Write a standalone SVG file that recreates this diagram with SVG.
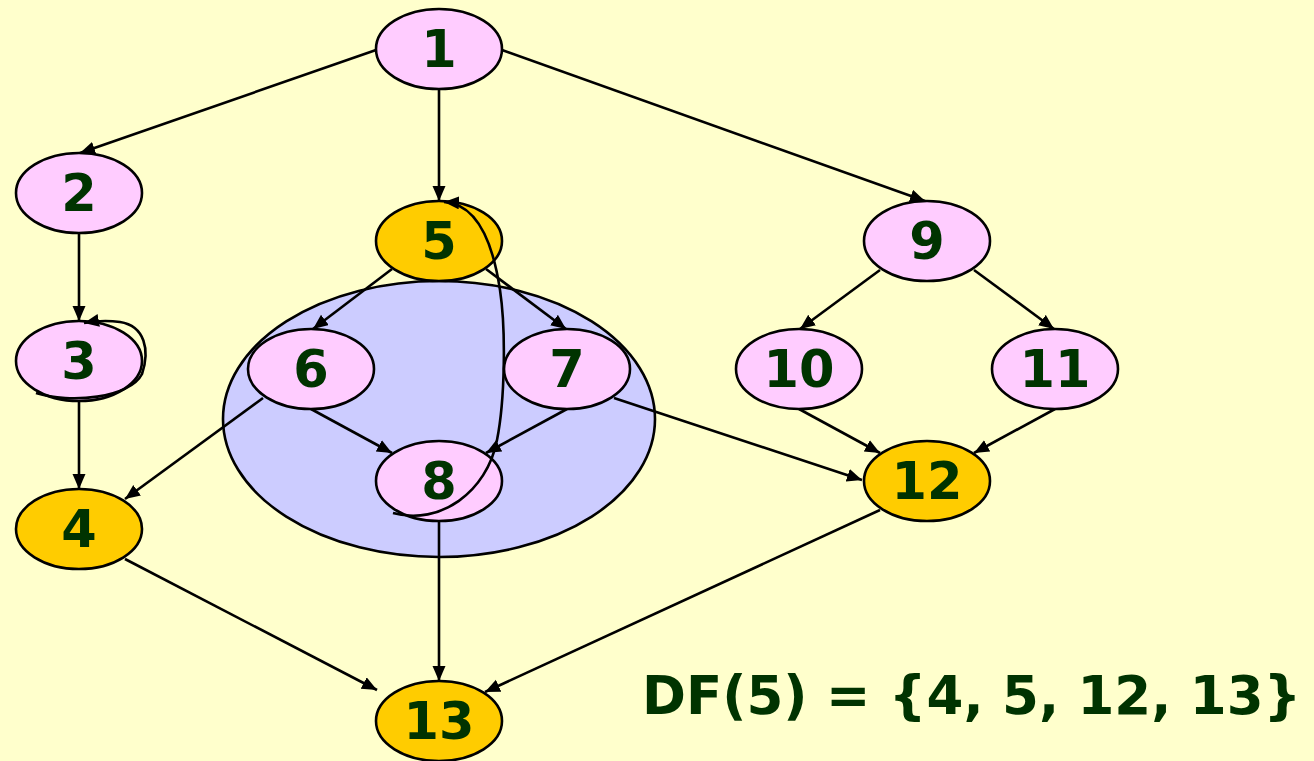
<svg xmlns="http://www.w3.org/2000/svg" width="1314" height="761" viewBox="0 0 1314 761">
  <style>
    .bg { fill: #ffffcc; }
    .node ellipse { stroke: #000; stroke-width: 2.6; }
    .pink { fill: #ffccff; }
    .gold { fill: #ffcc00; }
    .cluster { fill: #ccccff; stroke: #000; stroke-width: 2.6; }
    .lbl { font-family: "DejaVu Sans", "Liberation Sans", sans-serif; font-weight: bold; font-size: 51px; fill: #003300; text-anchor: middle; }
    .edges path { fill: none; stroke: #000; stroke-width: 2.6; marker-end: url(#arrow); }
    .note { font-family: "DejaVu Sans", "Liberation Sans", sans-serif; font-weight: bold; font-size: 53px; fill: #003300; }
  </style>
  <defs>
    <marker id="arrow" markerUnits="userSpaceOnUse" markerWidth="16" markerHeight="14" refX="15" refY="6.5" orient="auto">
      <path d="M0,0 L15,6.5 L0,13 z" fill="#000"/>
    </marker>
  </defs>
  <rect class="bg" width="1314" height="761"/>

  <!-- region around nodes 6, 7, 8 -->
  <ellipse id="region" class="cluster" cx="439" cy="419" rx="216" ry="138"/>

  <g class="edges" id="edges">
    <path d="M376,50 L80,153"/>
    <path d="M439,89 L439,201"/>
    <path d="M502,50 L925,201"/>
    <path d="M79,233 L79,321"/>
    <path d="M79,401 L79,489"/>
    <path d="M125,559 L377,690"/>
    <path d="M392,269 L313,329"/>
    <path d="M486,269 L566,329"/>
    <path d="M263,398 L125,499"/>
    <path d="M311,409 L392,453"/>
    <path d="M567,409 L486,453"/>
    <path d="M614,398 L862,480"/>
    <path d="M439,521 L439,681"/>
    <path d="M880,270 L800,329"/>
    <path d="M974,270 L1054,329"/>
    <path d="M799,409 L880,453"/>
    <path d="M1055,409 L974,453"/>
    <path d="M880,510 L485,692"/>
  </g>

  <g class="node" id="n1"><ellipse class="pink" cx="439" cy="49" rx="63" ry="40"/><text class="lbl" x="439" y="67">1</text></g>
  <g class="node" id="n2"><ellipse class="pink" cx="79" cy="193" rx="63" ry="40"/><text class="lbl" x="79" y="211">2</text></g>
  <g class="node" id="n3"><ellipse class="pink" cx="79" cy="361" rx="63" ry="40"/><text class="lbl" x="79" y="379">3</text></g>
  <g class="node" id="n4"><ellipse class="gold" cx="79" cy="529" rx="63" ry="40"/><text class="lbl" x="79" y="547">4</text></g>
  <g class="node" id="n5"><ellipse class="gold" cx="439" cy="241" rx="63" ry="40"/><text class="lbl" x="439" y="259">5</text></g>
  <g class="node" id="n6"><ellipse class="pink" cx="311" cy="369" rx="63" ry="40"/><text class="lbl" x="311" y="387">6</text></g>
  <g class="node" id="n7"><ellipse class="pink" cx="567" cy="369" rx="63" ry="40"/><text class="lbl" x="567" y="387">7</text></g>
  <g class="node" id="n8"><ellipse class="pink" cx="439" cy="481" rx="63" ry="40"/><text class="lbl" x="439" y="499">8</text></g>
  <g class="node" id="n9"><ellipse class="pink" cx="927" cy="241" rx="63" ry="40"/><text class="lbl" x="927" y="259">9</text></g>
  <g class="node" id="n10"><ellipse class="pink" cx="799" cy="369" rx="63" ry="40"/><text class="lbl" x="799" y="387">10</text></g>
  <g class="node" id="n11"><ellipse class="pink" cx="1055" cy="369" rx="63" ry="40"/><text class="lbl" x="1055" y="387">11</text></g>
  <g class="node" id="n12"><ellipse class="gold" cx="927" cy="481" rx="63" ry="40"/><text class="lbl" x="927" y="499">12</text></g>
  <g class="node" id="n13"><ellipse class="gold" cx="439" cy="721" rx="63" ry="40"/><text class="lbl" x="439" y="739">13</text></g>

  <!-- loops drawn above the nodes they pass over: 8 -> 5 and 3 -> 3 -->
  <g class="edges" id="edges-over">
    <path d="M393,513 C440,526 487,492 497,440 C505,400 506,330 500,290 C494,250 480,204 444,202"/>
    <path d="M36,393 C70,404 130,398 142,374 C150,350 145,326 120,322 C105,320 95,321 84,323"/>
  </g>

  <text class="note" x="642" y="714">DF(5) = {4, 5, 12, 13}</text>
</svg>
